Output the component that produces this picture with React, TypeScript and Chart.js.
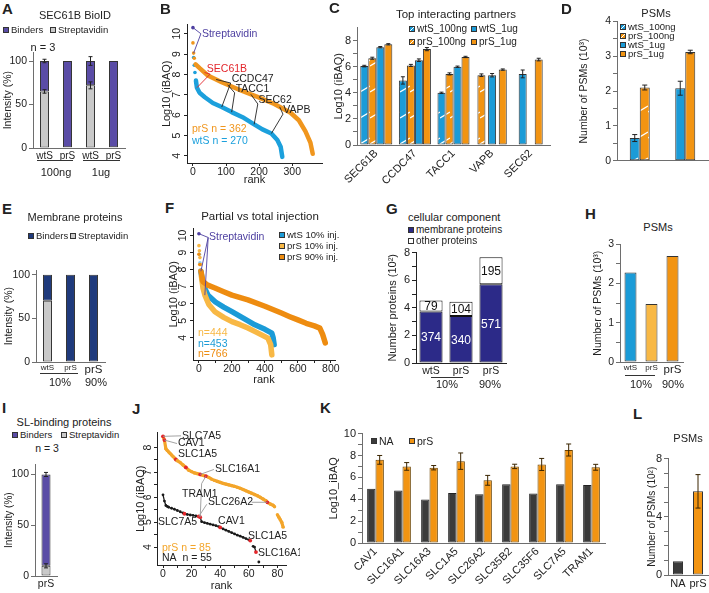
import React, { useEffect, useRef } from 'react';
import { Chart, registerables } from 'chart.js';

Chart.register(...registerables);

const FONT = "'Liberation Sans', Arial, Helvetica, sans-serif";
Chart.defaults.font.family = FONT;
Chart.defaults.color = '#222';

// ---------- colours ----------
const BLUE = '#1b9bd7';
const ORANGE = '#f29412';
const LORANGE = '#f8b845';
const DORANGE = '#ee8c10';
const PURPLE = '#5a4ca6';
const NAVY = '#1f3a7c';
const INDIGO = '#2c2a88';
const GREY = '#c9c9c9';
const DARK = '#3b3b3b';
const RED = '#e3262b';
const STREP = '#4d3fa0';
const AXIS = '#6e6e6e';
const RAXIS = '#222';
const EDGE = '#333';

// ---------- data ----------
// A: SEC61B BioID
const aLabels = ['wtS', 'prS', 'wtS', 'prS'];
const aStrep = [65, 1, 72, 1];
const aBind = [35, 99, 28, 99];
const aStrepErr = [2, 0, 4, 0];
const aBindErr = [2, 0, 5, 0];

// B: rank plot (rank, log10 iBAQ)
const bPrS = [[0, 9.55], [2, 9.05], [4, 8.8], [8, 8.5], [21, 8.3], [45, 7.95], [87, 7.62], [147, 7.2], [195, 6.9], [246, 6.55], [295, 6.12], [320, 5.75], [340, 5.2], [355, 4.65], [362, 4.1]];
const bWtS = [[0, 10.3], [2, 8.83], [4, 8.45], [6, 8.1], [9, 7.7], [12, 7.35], [20, 7.1], [36, 6.88], [60, 6.6], [87, 6.4], [117, 6.15], [150, 5.9], [180, 5.6], [210, 5.3], [237, 5.1], [255, 4.78], [265, 4.45], [270, 3.95]];
const bYTicks = [4, 5, 6, 7, 8, 9, 10];
const bXTicks = [0, 100, 200, 300];

// C: top interacting partners
const cGenes = ['SEC61B', 'CCDC47', 'TACC1', 'VAPB', 'SEC62'];
const cWt100 = [6.05, 4.95, 4.0, null, null];
const cPr100 = [6.65, 6.1, 5.45, 5.35, null];
const cWt1 = [7.5, 6.5, 6.0, 5.35, 5.45];
const cPr1 = [7.72, 7.35, 6.75, 5.78, 6.55];
const cWt100Err = [0.06, 0.28, 0.05, 0, 0];
const cPr100Err = [0.08, 0.08, 0.08, 0.1, 0];
const cWt1Err = [0.05, 0.1, 0.05, 0.13, 0.3];
const cPr1Err = [0.05, 0.12, 0.05, 0.05, 0.1];

// D: PSMs
const dLabels = ['100ng', '1ug'];
const dWt100 = [0.65, null];
const dPr100 = [2.1, null];
const dWt1 = [null, 2.08];
const dPr1 = [null, 3.12];
const dWt100Err = [0.1, 0];
const dPr100Err = [0.07, 0];
const dWt1Err = [0, 0.2];
const dPr1Err = [0, 0.05];

// E: membrane proteins
const eLabels = ['wtS', 'prS', 'prS'];
const eStrep = [70, 0, 0];
const eBind = [30, 100, 100];

// F: partial vs total injection
const fWtS = [[0, 10.1], [3, 8.9], [6, 8.4], [12, 7.9], [20, 7.4], [30, 7.0], [55, 6.5], [100, 6.1], [150, 5.8], [200, 5.53], [250, 5.25], [300, 4.98], [339, 4.76], [400, 4.5], [442, 4.27], [450, 4.0], [456, 3.6]];
const fPrS10 = [[0, 9.4], [3, 9.1], [6, 8.7], [10, 8.3], [15, 7.6], [25, 6.9], [36, 6.5], [60, 5.95], [97, 5.53], [150, 5.2], [200, 4.95], [250, 4.77], [297, 4.57], [350, 4.32], [418, 3.98], [435, 3.6], [442, 3.0]];
const fPrS90 = [[0, 8.9], [5, 8.3], [12, 7.9], [24, 7.3], [50, 7.1], [97, 6.92], [150, 6.7], [200, 6.5], [297, 6.22], [400, 5.85], [500, 5.45], [551, 5.24], [600, 5.05], [650, 4.85], [700, 4.7], [733, 4.57], [750, 4.2], [766, 3.7]];
const fYTicks = [4, 5, 6, 7, 8, 9, 10];
const fXTicks = [0, 200, 400, 600, 800];

// G: cellular component (counts)
const gLabels = ['wtS', 'prS', 'prS'];
const gMembrane = [374, 340, 571];
const gOther = [79, 104, 195];

// H: PSMs
const hLabels = ['wtS', 'prS', 'prS'];
const hValues = [2.28, 1.48, 2.7];

// I: SL-binding proteins
const iLabels = ['prS'];
const iStrep = [10];
const iBind = [90];
const iStrepErr = [2];
const iBindErr = [2];

// J: rank plot SL-binding
const jPrS = [[0, 8.45], [1, 8.3], [2, 7.95], [3, 7.88], [4, 7.82], [5, 7.76], [6, 7.7], [7, 7.64], [8, 7.58], [9, 7.52], [10, 7.47], [12, 7.4], [14, 7.3], [16, 7.2], [18, 7.09], [20, 7.03], [22, 6.98], [24, 6.95], [26, 6.92], [28, 6.88], [30, 6.85], [32, 6.8], [34, 6.73], [36, 6.68], [38, 6.64], [40, 6.6], [42, 6.56], [44, 6.53], [46, 6.5], [48, 6.47], [50, 6.44], [52, 6.4], [54, 6.36], [56, 6.31], [58, 6.26], [60, 6.21], [62, 6.16], [64, 6.11], [66, 6.06], [68, 6.0], [70, 5.93], [72, 5.86], [73, 5.8], [75, 5.73], [77, 5.68], [78, 5.62], [79, null], [80, 5.3], [81, 5.2], [82, 5.1], [83, 5.0], [84, 4.8]];
const jNA = [[0, 6.1], [1, 5.85], [2, 5.67], [3, 5.63], [4, 5.6], [6, 5.56], [8, 5.52], [10, 5.47], [12, 5.42], [14, 5.37], [15, 5.34], [17, 5.31], [19, 5.29], [21, 5.27], [23, 5.25], [25, 5.23], [26, 5.2], [27, 5.02], [29, 4.98], [31, 4.95], [33, 4.92], [35, 4.89], [37, 4.86], [39, 4.82], [40, 4.79], [42, 4.73], [44, 4.68], [46, 4.63], [48, 4.58], [50, 4.53], [52, 4.48], [54, 4.44], [56, 4.39], [58, 4.34], [60, 4.29], [61, 4.26], [62, null], [63, 4.03], [64, 4.0], [65, 3.8], [66, null], [67, 3.4]];
const jPrSRed = [0, 1, 9, 16, 26, 30, 73];
const jNARed = [15, 25, 26, 40, 61, 65];
const jYTicks = [4, 5, 6, 7, 8];
const jXTicks = [0, 20, 40, 60, 80];

// K: SLC proteins
const kGenes = ['CAV1', 'SLC16A1', 'SLC16A3', 'SLC1A5', 'SLC26A2', 'SLC35B2', 'SLC35F6', 'SLC7A5', 'TRAM1'];
const kNA = [4.97, 4.79, 3.97, 4.58, 4.45, 5.36, 4.52, 5.38, 5.3];
const kPrS = [7.6, 7.0, 6.88, 7.48, 5.73, 7.0, 7.18, 8.5, 6.92];
const kPrSErr = [0.4, 0.35, 0.2, 0.75, 0.45, 0.2, 0.55, 0.55, 0.27];

// L: PSMs
const lLabels = ['NA', 'prS'];
const lValues = [0.95, 5.75];
const lErr = [0, 1.15];

// ---------- helpers ----------
function geo(cl: number, ct: number, cr: number, cb: number, yW: number, xH: number, pt = 8, pr = 4) {
  const left = cl - yW;
  const top = ct - pt;
  return { left, top, width: cr + pr - left, height: cb + xH - top, pad: { left: 0, top: pt, right: pr, bottom: 0 }, yW, xH };
}

function lin(o: any) {
  const all = [...o.major, ...(o.minor || [])].sort((a: number, b: number) => a - b);
  const col = o.color || AXIS;
  return {
    type: 'linear',
    min: o.min,
    max: o.max,
    afterBuildTicks: (s: any) => { s.ticks = all.map((v: number) => ({ value: v })); },
    afterFit: (s: any) => { if (s.isHorizontal()) s.height = o.size; else s.width = o.size; },
    grid: { display: true, drawOnChartArea: false, drawTicks: true, tickLength: o.tick ?? 4, color: col },
    border: { display: true, color: col, width: 1 },
    ticks: {
      autoSkip: false, maxRotation: 0, minRotation: 0, padding: o.tpad ?? 2, color: '#222',
      font: { size: o.font || 11 },
      callback: (v: number) => (o.hide || !o.major.includes(v) ? '' : String(v)),
    },
    title: o.title
      ? { display: true, text: o.title, color: '#222', font: { size: o.titleSize || 11 }, padding: { top: o.titlePad || 0, bottom: o.titlePad || 0 } }
      : { display: false },
  };
}

function cat(o: any) {
  return {
    type: 'category',
    offset: true,
    afterFit: (s: any) => { s.height = o.size; },
    grid: { display: true, drawOnChartArea: false, drawTicks: false, color: o.color || AXIS },
    border: { display: true, color: o.color || AXIS, width: 1 },
    ticks: {
      display: !o.hide, autoSkip: false, maxRotation: o.rot || 0, minRotation: o.rot || 0,
      padding: o.tpad ?? 2, color: '#222',
      font: typeof o.font === 'function' ? o.font : { size: o.font || 10 },
    },
  };
}

function baseOpts(g: any, scales: any, extra: any = {}) {
  return {
    responsive: false,
    maintainAspectRatio: false,
    animation: false,
    devicePixelRatio: 1,
    events: [],
    layout: { padding: g.pad },
    plugins: { legend: { display: false }, tooltip: { enabled: false }, title: { display: false } },
    scales,
    ...extra,
  };
}

function hatch(color: string) {
  const c = document.createElement('canvas');
  c.width = 10;
  c.height = 26;
  const x = c.getContext('2d') as CanvasRenderingContext2D;
  x.fillStyle = color;
  x.fillRect(0, 0, 10, 26);
  x.strokeStyle = '#ffffff';
  x.lineWidth = 1.4;
  x.beginPath();
  x.moveTo(0, 21);
  x.lineTo(10, 15);
  x.stroke();
  return x.createPattern(c, 'repeat');
}

function errorBars(cap = 2.5, color = '#222') {
  return {
    id: 'errorBars',
    afterDatasetsDraw(chart: any) {
      const ctx = chart.ctx;
      chart.data.datasets.forEach((ds: any, i: number) => {
        if (!ds.errors) return;
        const meta = chart.getDatasetMeta(i);
        const ys = chart.scales[meta.yAxisID];
        meta.data.forEach((el: any, j: number) => {
          const e = ds.errors[j];
          if (!e || ds.data[j] == null) return;
          const d = Math.abs(ys.getPixelForValue(0) - ys.getPixelForValue(e));
          ctx.save();
          ctx.strokeStyle = color;
          ctx.lineWidth = 1;
          ctx.beginPath();
          ctx.moveTo(el.x, el.y - d); ctx.lineTo(el.x, el.y + d);
          ctx.moveTo(el.x - cap, el.y - d); ctx.lineTo(el.x + cap, el.y - d);
          ctx.moveTo(el.x - cap, el.y + d); ctx.lineTo(el.x + cap, el.y + d);
          ctx.stroke();
          ctx.restore();
        });
      });
    },
  };
}

function barText() {
  return {
    id: 'barText',
    afterDatasetsDraw(chart: any) {
      const ctx = chart.ctx;
      chart.data.datasets.forEach((ds: any, i: number) => {
        if (!ds.texts) return;
        const meta = chart.getDatasetMeta(i);
        meta.data.forEach((el: any, j: number) => {
          ctx.save();
          ctx.fillStyle = ds.textColor;
          ctx.font = `12px ${FONT}`;
          ctx.textAlign = 'center';
          ctx.textBaseline = 'middle';
          ctx.fillText(String(ds.texts[j]), el.x, (el.y + el.base) / 2 + 1);
          ctx.restore();
        });
      });
    },
  };
}

function rotY(labels: number[], size = 10.5, offset = 5) {
  return {
    id: 'rotY',
    afterDraw(chart: any) {
      const s = chart.scales.y;
      const ctx = chart.ctx;
      ctx.save();
      ctx.fillStyle = '#222';
      ctx.font = `${size}px ${FONT}`;
      ctx.textAlign = 'center';
      ctx.textBaseline = 'bottom';
      for (const v of labels) {
        ctx.save();
        ctx.translate(s.right - offset, s.getPixelForValue(v));
        ctx.rotate(-Math.PI / 2);
        ctx.fillText(String(v), 0, 0);
        ctx.restore();
      }
      ctx.restore();
    },
  };
}

function valueAt(data: any[], xv: number) {
  const pts = data.filter((p: any) => p.y != null);
  for (let i = 0; i < pts.length - 1; i++) {
    const a = pts[i], b = pts[i + 1];
    if (xv >= a.x && xv <= b.x) return a.y + ((b.y - a.y) * (xv - a.x)) / (b.x - a.x || 1);
  }
  return pts[pts.length - 1].y;
}

function annot(items: any[]) {
  return {
    id: 'annot',
    afterDatasetsDraw(chart: any) {
      const { ctx } = chart;
      const x = chart.scales.x, y = chart.scales.y;
      ctx.save();
      for (const it of items) {
        const f = it.from || it.at;
        const fx = x.getPixelForValue(f[0]), fy = y.getPixelForValue(f[1]);
        if (it.to) {
          ctx.strokeStyle = it.lineColor || it.color || '#222';
          ctx.lineWidth = 0.9;
          for (const [di, xv] of it.to) {
            const yv = valueAt(chart.data.datasets[di].data, xv);
            ctx.beginPath();
            ctx.moveTo(fx, fy);
            ctx.lineTo(x.getPixelForValue(xv), y.getPixelForValue(yv));
            ctx.stroke();
          }
        }
        if (it.text) {
          ctx.fillStyle = it.color || '#222';
          ctx.font = `${it.size || 10.5}px ${FONT}`;
          ctx.textAlign = 'left';
          ctx.textBaseline = 'middle';
          ctx.fillText(it.text, x.getPixelForValue(it.at[0]), y.getPixelForValue(it.at[1]));
        }
      }
      ctx.restore();
    },
  };
}

function rankDs(pairs: any[], color: string, width: number, head: number, extra: any = {}) {
  return {
    data: pairs.map(([x, y]) => ({ x, y })),
    borderColor: color,
    backgroundColor: color,
    borderWidth: width,
    tension: 0,
    pointRadius: (c: any) => (c.dataIndex < head ? 1.8 : 0),
    pointBorderWidth: 0,
    spanGaps: false,
    borderCapStyle: 'round',
    borderJoinStyle: 'round',
    segment: { borderColor: (c: any) => (c.p0DataIndex < head ? 'rgba(0,0,0,0)' : undefined) },
    ...extra,
  };
}

const barBase = { borderColor: EDGE, borderWidth: 1, borderSkipped: false };

// ---------- geometry of each plot ----------
const gA = geo(33, 52, 125, 148, 33, 16, 8, 3);
const gB = geo(187, 24, 322, 163, 28, 25, 8, 6);
const gC = geo(357, 27, 550, 145, 27, 40, 8, 3);
const gD = geo(617, 21, 708, 161, 39, 8, 8, 1);
const gE = geo(36, 270, 105, 362, 36, 14, 8, 8);
const gF = geo(193, 228, 335, 360, 30, 28, 8, 8);
const gG = geo(416, 252, 506, 363, 30, 16, 8, 3);
const gH = geo(620, 244, 683, 362, 28, 14, 8, 7);
const gI = geo(35, 464, 57, 576, 35, 14, 8, 5);
const gJ = geo(157, 432, 286, 565, 23, 28, 8, 14);
const gK = geo(362, 433, 605, 543, 35, 50, 8, 3);
const gL = geo(668, 458, 708, 575, 22, 16, 8, 1);

// ---------- configs ----------
function cfgA() {
  return {
    type: 'bar',
    data: {
      labels: aLabels,
      datasets: [
        { label: 'Streptavidin', data: aStrep, backgroundColor: GREY, errors: aStrepErr, barPercentage: 0.39, categoryPercentage: 1, ...barBase },
        { label: 'Binders', data: aBind, backgroundColor: PURPLE, errors: aBindErr, barPercentage: 0.39, categoryPercentage: 1, ...barBase },
      ],
    },
    options: baseOpts(gA, {
      x: { ...cat({ size: gA.xH, font: 10 }), stacked: true },
      y: { ...lin({ min: 0, max: 110, major: [0, 50, 100], size: gA.yW, font: 10.5, title: 'Intensity (%)', titleSize: 10.5, titlePad: 2 }), stacked: true },
    }),
    plugins: [errorBars(2)],
  };
}

function cfgB() {
  return {
    type: 'line',
    data: {
      datasets: [
        rankDs(bPrS, '#f0961e', 4.5, 3),
        rankDs(bWtS, '#1ca0dc', 4.5, 4, { pointBackgroundColor: (c: any) => (c.dataIndex === 0 ? STREP : '#1ca0dc') }),
      ],
    },
    options: baseOpts(gB, {
      x: lin({ min: -18, max: 390, major: bXTicks, size: gB.xH, font: 10.5, title: 'rank', titleSize: 11, titlePad: 1, color: RAXIS, tick: 3, tpad: 0 }),
      y: lin({ min: 3.65, max: 10.45, major: bYTicks, size: gB.yW, hide: true, title: 'Log10 (iBAQ)', titlePad: 1.5, color: RAXIS, tick: 3 }),
    }),
    plugins: [
      rotY(bYTicks, 10.5, 5),
      annot([
        { text: 'Streptavidin', at: [27, 10.0], from: [24, 10.0], to: [[1, 0], [0, 2]], color: STREP },
        { text: 'SEC61B', at: [42, 8.24], from: [52, 8.02], to: [[1, 12], [0, 35]], color: RED },
        { text: 'CCDC47', at: [117, 7.76], from: [114, 7.58], to: [[0, 70], [1, 87]] },
        { text: 'TACC1', at: [129, 7.27], from: [126, 7.1], to: [[0, 105], [1, 117]] },
        { text: 'SEC62', at: [198, 6.73], from: [196, 6.55], to: [[0, 175], [1, 185]] },
        { text: 'VAPB', at: [273, 6.24], from: [272, 6.05], to: [[0, 262], [1, 237]] },
      ]),
    ],
  };
}

function cfgC() {
  const common = { barPercentage: 1, categoryPercentage: 0.83, maxBarThickness: 8, skipNull: true, ...barBase };
  return {
    type: 'bar',
    data: {
      labels: cGenes,
      datasets: [
        { label: 'wtS_100ng', data: cWt100, backgroundColor: hatch(BLUE), errors: cWt100Err, ...common },
        { label: 'prS_100ng', data: cPr100, backgroundColor: hatch(ORANGE), errors: cPr100Err, ...common },
        { label: 'wtS_1ug', data: cWt1, backgroundColor: BLUE, errors: cWt1Err, ...common },
        { label: 'prS_1ug', data: cPr1, backgroundColor: ORANGE, errors: cPr1Err, ...common },
      ],
    },
    options: baseOpts(gC, {
      x: cat({ size: gC.xH, font: 11, rot: 45 }),
      y: lin({ min: 0, max: 9, major: [0, 2, 4, 6, 8], minor: [1, 3, 5, 7], size: gC.yW, font: 11, title: 'Log10 (iBAQ)', titlePad: 2 }),
    }),
    plugins: [errorBars(2)],
  };
}

function cfgD() {
  const common = { barPercentage: 1, categoryPercentage: 0.44, maxBarThickness: 10, skipNull: true, ...barBase };
  return {
    type: 'bar',
    data: {
      labels: dLabels,
      datasets: [
        { label: 'wtS_100ng', data: dWt100, backgroundColor: hatch(BLUE), errors: dWt100Err, ...common },
        { label: 'prS_100ng', data: dPr100, backgroundColor: hatch(ORANGE), errors: dPr100Err, ...common },
        { label: 'wtS_1ug', data: dWt1, backgroundColor: BLUE, errors: dWt1Err, ...common },
        { label: 'prS_1ug', data: dPr1, backgroundColor: ORANGE, errors: dPr1Err, ...common },
      ],
    },
    options: baseOpts(gD, {
      x: cat({ size: gD.xH, hide: true }),
      y: lin({ min: 0, max: 4, major: [0, 1, 2, 3, 4], minor: [0.5, 1.5, 2.5, 3.5], size: gD.yW, font: 10.5, title: 'Number of PSMs (10³)', titleSize: 10.5, titlePad: 0 }),
    }),
    plugins: [errorBars(2.5)],
  };
}

function cfgE() {
  return {
    type: 'bar',
    data: {
      labels: eLabels,
      datasets: [
        { label: 'Streptavidin', data: eStrep, backgroundColor: GREY, barPercentage: 0.39, categoryPercentage: 1, ...barBase },
        { label: 'Binders', data: eBind, backgroundColor: NAVY, barPercentage: 0.39, categoryPercentage: 1, ...barBase },
      ],
    },
    options: baseOpts(gE, {
      x: { ...cat({ size: gE.xH, font: (c: any) => ({ size: c.index === 2 ? 11.5 : 8 }), tpad: 1 }), stacked: true },
      y: { ...lin({ min: 0, max: 105, major: [0, 50, 100], size: gE.yW, font: 10.5, title: 'Intensity (%)', titleSize: 10.5, titlePad: 3 }), stacked: true },
    }),
  };
}

function cfgF() {
  return {
    type: 'line',
    data: {
      datasets: [
        rankDs(fPrS90, DORANGE, 5.5, 2),
        rankDs(fPrS10, LORANGE, 5.5, 4),
        rankDs(fWtS, BLUE, 5.5, 3, { pointBackgroundColor: (c: any) => (c.dataIndex === 0 ? STREP : '#8fcdee') }),
      ],
    },
    options: baseOpts(gF, {
      x: lin({ min: -36, max: 825, major: fXTicks, minor: [100, 300, 500, 700], size: gF.xH, font: 10.5, title: 'rank', titleSize: 11, titlePad: 1, color: RAXIS, tick: 3, tpad: 0 }),
      y: lin({ min: 2.7, max: 10.4, major: fYTicks, size: gF.yW, hide: true, title: 'Log10 (iBAQ)', titlePad: 4, color: RAXIS, tick: 3 }),
    }),
    plugins: [
      rotY(fYTicks, 10.5, 5),
      annot([{ text: 'Streptavidin', at: [61, 9.88], from: [56, 9.88], to: [[2, 0], [0, 12], [1, 36]], color: STREP }]),
    ],
  };
}

function cfgG() {
  return {
    type: 'bar',
    data: {
      labels: gLabels,
      datasets: [
        { label: 'membrane proteins', data: gMembrane.map((v) => v / 100), texts: gMembrane, textColor: '#ffffff', backgroundColor: INDIGO, barPercentage: 0.77, categoryPercentage: 1, ...barBase, borderColor: '#111' },
        { label: 'other proteins', data: gOther.map((v) => v / 100), texts: gOther, textColor: '#111', backgroundColor: '#ffffff', barPercentage: 0.77, categoryPercentage: 1, ...barBase, borderColor: '#111' },
      ],
    },
    options: baseOpts(gG, {
      x: { ...cat({ size: gG.xH, font: 10.5, color: RAXIS }), stacked: true },
      y: { ...lin({ min: 0, max: 8, major: [0, 2, 4, 6, 8], minor: [1, 3, 5, 7], size: gG.yW, font: 11, title: 'Number proteins (10²)', titlePad: 0, color: RAXIS }), stacked: true },
    }),
    plugins: [barText()],
  };
}

function cfgH() {
  return {
    type: 'bar',
    data: {
      labels: hLabels,
      datasets: [{ label: 'PSMs', data: hValues, backgroundColor: [BLUE, LORANGE, ORANGE], barPercentage: 0.57, categoryPercentage: 1, ...barBase }],
    },
    options: baseOpts(gH, {
      x: cat({ size: gH.xH, font: (c: any) => ({ size: c.index === 2 ? 11.5 : 8 }), tpad: 1 }),
      y: lin({ min: 0, max: 3, major: [0, 1, 2, 3], minor: [0.5, 1.5, 2.5], size: gH.yW, font: 10.5, title: 'Number of PSMs (10³)', titleSize: 10.5, titlePad: 0 }),
    }),
  };
}

function cfgI() {
  return {
    type: 'bar',
    data: {
      labels: iLabels,
      datasets: [
        { label: 'Streptavidin', data: iStrep, backgroundColor: GREY, errors: iStrepErr, barPercentage: 0.41, categoryPercentage: 1, ...barBase },
        { label: 'Binders', data: iBind, backgroundColor: PURPLE, errors: iBindErr, barPercentage: 0.41, categoryPercentage: 1, ...barBase },
      ],
    },
    options: baseOpts(gI, {
      x: { ...cat({ size: gI.xH, font: 10.5 }), stacked: true },
      y: { ...lin({ min: 0, max: 110, major: [0, 50, 100], size: gI.yW, font: 10.5, title: 'Intensity (%)', titleSize: 10, titlePad: 3 }), stacked: true },
    }),
    plugins: [errorBars(2)],
  };
}

function cfgJ() {
  const pr = new Set(jPrSRed);
  const na = new Set(jNARed);
  return {
    type: 'line',
    data: {
      datasets: [
        {
          data: jPrS.map(([x, y]) => ({ x, y })), borderColor: '#f3a52a', borderWidth: 3.2, tension: 0, spanGaps: false,
          pointRadius: (c: any) => (pr.has(c.raw?.x) ? 1.9 : 1.7), pointBorderWidth: 0,
          pointBackgroundColor: (c: any) => (pr.has(c.raw?.x) ? RED : '#f3a52a'),
        },
        {
          data: jNA.map(([x, y]) => ({ x, y })), borderColor: '#1a1a1a', borderWidth: 1.3, tension: 0, spanGaps: false,
          pointRadius: (c: any) => (na.has(c.raw?.x) ? 1.9 : 1.4), pointBorderWidth: 0,
          pointBackgroundColor: (c: any) => (na.has(c.raw?.x) ? RED : '#1a1a1a'),
        },
      ],
    },
    options: baseOpts(gJ, {
      x: lin({ min: -4.2, max: 86, major: jXTicks, minor: [10, 30, 50, 70], size: gJ.xH, font: 10.5, title: 'rank', titleSize: 11, titlePad: 0, color: RAXIS, tick: 3, tpad: 0 }),
      y: lin({ min: 3.28, max: 8.6, major: jYTicks, minor: [4.5, 5.5, 6.5, 7.5], size: gJ.yW, hide: true, title: 'Log10 (iBAQ)', titlePad: 0, color: RAXIS, tick: 3 }),
    }),
    plugins: [
      rotY(jYTicks, 10.5, 4),
      annot([
        { text: 'SLC7A5', at: [13.3, 8.47], from: [12.6, 8.47], to: [[0, 0]], lineColor: '#999' },
        { text: 'CAV1', at: [10.5, 8.16], from: [9.8, 8.16], to: [[0, 1]], lineColor: '#999' },
        { text: 'SLC1A5', at: [10.5, 7.74] },
        { text: 'SLC16A1', at: [36.4, 7.12], from: [35.6, 7.12], to: [[0, 26]], lineColor: '#999' },
        { text: 'TRAM1', at: [13.3, 6.12], from: [27, 6.55], to: [[0, 30], [1, 26]], lineColor: '#999' },
        { text: 'SLC26A2', at: [31.5, 5.8], from: [62, 5.8], to: [[0, 73]], lineColor: '#999' },
        { from: [30.6, 5.72], to: [[1, 25]], lineColor: '#999' },
        { text: 'SLC7A5', at: [-3.5, 5.0] },
        { text: 'CAV1', at: [38.5, 5.04] },
        { text: 'SLC1A5', at: [59.4, 4.44] },
        { text: 'SLC16A1', at: [66.4, 3.76] },
      ]),
    ],
  };
}

function cfgK() {
  const common = { barPercentage: 1, categoryPercentage: 0.62, ...barBase };
  return {
    type: 'bar',
    data: {
      labels: kGenes,
      datasets: [
        { label: 'NA', data: kNA, backgroundColor: DARK, ...common, borderColor: '#222' },
        { label: 'prS', data: kPrS, backgroundColor: ORANGE, errors: kPrSErr, ...common, borderColor: '#6b4300' },
      ],
    },
    options: baseOpts(gK, {
      x: cat({ size: gK.xH, font: 11, rot: 45 }),
      y: lin({ min: 0, max: 10, major: [0, 2, 4, 6, 8, 10], minor: [1, 3, 5, 7, 9], size: gK.yW, font: 11, title: 'Log10_iBAQ', titlePad: 0 }),
    }),
    plugins: [errorBars(2.5, '#3a2500')],
  };
}

function cfgL() {
  return {
    type: 'bar',
    data: {
      labels: lLabels,
      datasets: [{ label: 'PSMs', data: lValues, errors: lErr, backgroundColor: [DARK, ORANGE], barPercentage: 0.5, categoryPercentage: 1, ...barBase }],
    },
    options: baseOpts(gL, {
      x: cat({ size: gL.xH, font: 11 }),
      y: lin({ min: 0, max: 8, major: [0, 4, 8], minor: [1, 2, 3, 5, 6, 7], size: gL.yW, font: 11, title: 'Number of PSMs (10²)', titleSize: 10, titlePad: 0 }),
    }),
    plugins: [errorBars(2.5, '#3a2500')],
  };
}

const PANELS = [
  { g: gA, make: cfgA }, { g: gB, make: cfgB }, { g: gC, make: cfgC }, { g: gD, make: cfgD },
  { g: gE, make: cfgE }, { g: gF, make: cfgF }, { g: gG, make: cfgG }, { g: gH, make: cfgH },
  { g: gI, make: cfgI }, { g: gJ, make: cfgJ }, { g: gK, make: cfgK }, { g: gL, make: cfgL },
];

function ChartPanel({ g, make }: any) {
  const ref = useRef<HTMLCanvasElement>(null);
  useEffect(() => {
    const chart = new Chart(ref.current as HTMLCanvasElement, make() as any);
    return () => chart.destroy();
  }, []);
  return (
    <canvas
      ref={ref}
      width={g.width}
      height={g.height}
      style={{ position: 'absolute', left: g.left, top: g.top, width: g.width, height: g.height }}
    />
  );
}

// ---------- text overlays ----------
function Txt({ x, y, s = 11, c = '#222', b = false, center = false, children }: any) {
  return (
    <div
      style={{
        position: 'absolute', left: x, top: y, fontSize: s, color: c, fontWeight: b ? 'bold' : 'normal',
        transform: center ? 'translate(-50%, -50%)' : 'translate(0, -50%)', whiteSpace: 'nowrap', lineHeight: 1.15, fontFamily: FONT,
      }}
    >
      {children}
    </div>
  );
}

function Sw({ x, y, c, h = false, sz = 6 }: any) {
  const bg = h ? `linear-gradient(to bottom right, ${c} 0%, ${c} 40%, #fff 40%, #fff 58%, ${c} 58%, ${c} 100%)` : c;
  return <div style={{ position: 'absolute', left: x, top: y - sz / 2, width: sz, height: sz, background: bg, border: '1px solid #333', boxSizing: 'border-box' }} />;
}

function Leg({ x, y, c, t, h = false, s = 9.5, sz = 6 }: any) {
  return (
    <>
      <Sw x={x} y={y} c={c} h={h} sz={sz} />
      <Txt x={x + sz + 2} y={y} s={s}>{t}</Txt>
    </>
  );
}

function HL({ x1, x2, y }: any) {
  return <div style={{ position: 'absolute', left: x1, top: y, width: x2 - x1, height: 0, borderTop: '1px solid #333' }} />;
}

export default function App() {
  return (
    <div style={{ position: 'absolute', left: 0, top: 0, width: 709, height: 593, background: '#fff', overflow: 'hidden', fontFamily: FONT, color: '#222' }}>
      {PANELS.map((p, i) => (
        <ChartPanel key={i} g={p.g} make={p.make} />
      ))}

      {/* panel letters */}
      <Txt x={2} y={9} s={15} b>A</Txt>
      <Txt x={160} y={9} s={15} b>B</Txt>
      <Txt x={329} y={8} s={15} b>C</Txt>
      <Txt x={561} y={9} s={15} b>D</Txt>
      <Txt x={2} y={209} s={15} b>E</Txt>
      <Txt x={165} y={208} s={15} b>F</Txt>
      <Txt x={386} y={209} s={15} b>G</Txt>
      <Txt x={585} y={214} s={15} b>H</Txt>
      <Txt x={2} y={408} s={15} b>I</Txt>
      <Txt x={132} y={409} s={15} b>J</Txt>
      <Txt x={320} y={408} s={15} b>K</Txt>
      <Txt x={633} y={414} s={15} b>L</Txt>

      {/* A */}
      <Txt x={75} y={15} center>SEC61B BioID</Txt>
      <Leg x={3} y={30} c={PURPLE} t="Binders" />
      <Leg x={50} y={30} c={GREY} t="Streptavidin" />
      <Txt x={43} y={47} center>n = 3</Txt>
      <HL x1={37} x2={73} y={160} />
      <HL x1={83} x2={120} y={160} />
      <Txt x={56} y={172} center>100ng</Txt>
      <Txt x={101} y={172} center>1ug</Txt>

      {/* B */}
      <Txt x={192} y={128} s={10.5} c="#f0961e">prS n = 362</Txt>
      <Txt x={192} y={140} s={10.5} c="#1ca0dc">wtS n = 270</Txt>

      {/* C */}
      <Txt x={456} y={15} s={11.5} center>Top interacting partners</Txt>
      <Leg x={409} y={29} c={BLUE} h t="wtS_100ng" s={10} />
      <Leg x={471} y={29} c={BLUE} t="wtS_1ug" s={10} />
      <Leg x={409} y={42} c={ORANGE} h t="prS_100ng" s={10} />
      <Leg x={471} y={42} c={ORANGE} t="prS_1ug" s={10} />

      {/* D */}
      <Txt x={656} y={13} center>PSMs</Txt>
      <Leg x={620} y={27} c={BLUE} h t="wtS_100ng" s={9.5} />
      <Leg x={620} y={36} c={ORANGE} h t="prS_100ng" s={9.5} />
      <Leg x={620} y={45} c={BLUE} t="wtS_1ug" s={9.5} />
      <Leg x={620} y={54} c={ORANGE} t="prS_1ug" s={9.5} />

      {/* E */}
      <Txt x={75} y={217} center>Membrane proteins</Txt>
      <Leg x={28} y={236} c={NAVY} t="Binders" />
      <Leg x={70} y={236} c={GREY} t="Streptavidin" />
      <HL x1={40} x2={78} y={373} />
      <Txt x={60} y={382} center>10%</Txt>
      <Txt x={96} y={382} center>90%</Txt>

      {/* F */}
      <Txt x={260} y={217} s={11.5} center>Partial vs total injection</Txt>
      <Leg x={279} y={235} c={BLUE} t="wtS 10% inj." s={9.5} />
      <Leg x={279} y={246} c={LORANGE} t="prS 10% inj." s={9.5} />
      <Leg x={279} y={257} c={DORANGE} t="prS 90% inj." s={9.5} />
      <Txt x={198} y={332} s={10.5} c={LORANGE}>n=444</Txt>
      <Txt x={198} y={343} s={10.5} c={BLUE}>n=453</Txt>
      <Txt x={198} y={353} s={10.5} c={DORANGE}>n=766</Txt>

      {/* G */}
      <Txt x={408} y={217}>cellular component</Txt>
      <Leg x={408} y={230} c={INDIGO} t="membrane proteins" s={10} />
      <Leg x={408} y={241} c="#ffffff" t="other proteins" s={10} />
      <HL x1={431} x2={463} y={377} />
      <Txt x={447} y={384} center>10%</Txt>
      <Txt x={490} y={384} center>90%</Txt>

      {/* H */}
      <Txt x={658} y={227} center>PSMs</Txt>
      <HL x1={625} x2={655} y={375} />
      <Txt x={641} y={384} center>10%</Txt>
      <Txt x={673} y={384} center>90%</Txt>

      {/* I */}
      <Txt x={64} y={422} center>SL-binding proteins</Txt>
      <Leg x={12} y={435} c={PURPLE} t="Binders" />
      <Leg x={61} y={435} c={GREY} t="Streptavidin" />
      <Txt x={47} y={448} s={10.5} center>n = 3</Txt>

      {/* J */}
      <Txt x={162} y={547} s={10.5} c="#f3a52a">prS n = 85</Txt>
      <Txt x={162} y={557} s={10.5}>NA&nbsp;&nbsp;n = 55</Txt>

      {/* K */}
      <Leg x={371} y={441} c={DARK} t="NA" s={10.5} sz={6} />
      <Leg x={409} y={441} c={ORANGE} t="prS" s={10.5} sz={6} />

      {/* L */}
      <Txt x={688} y={438} center>PSMs</Txt>
    </div>
  );
}
